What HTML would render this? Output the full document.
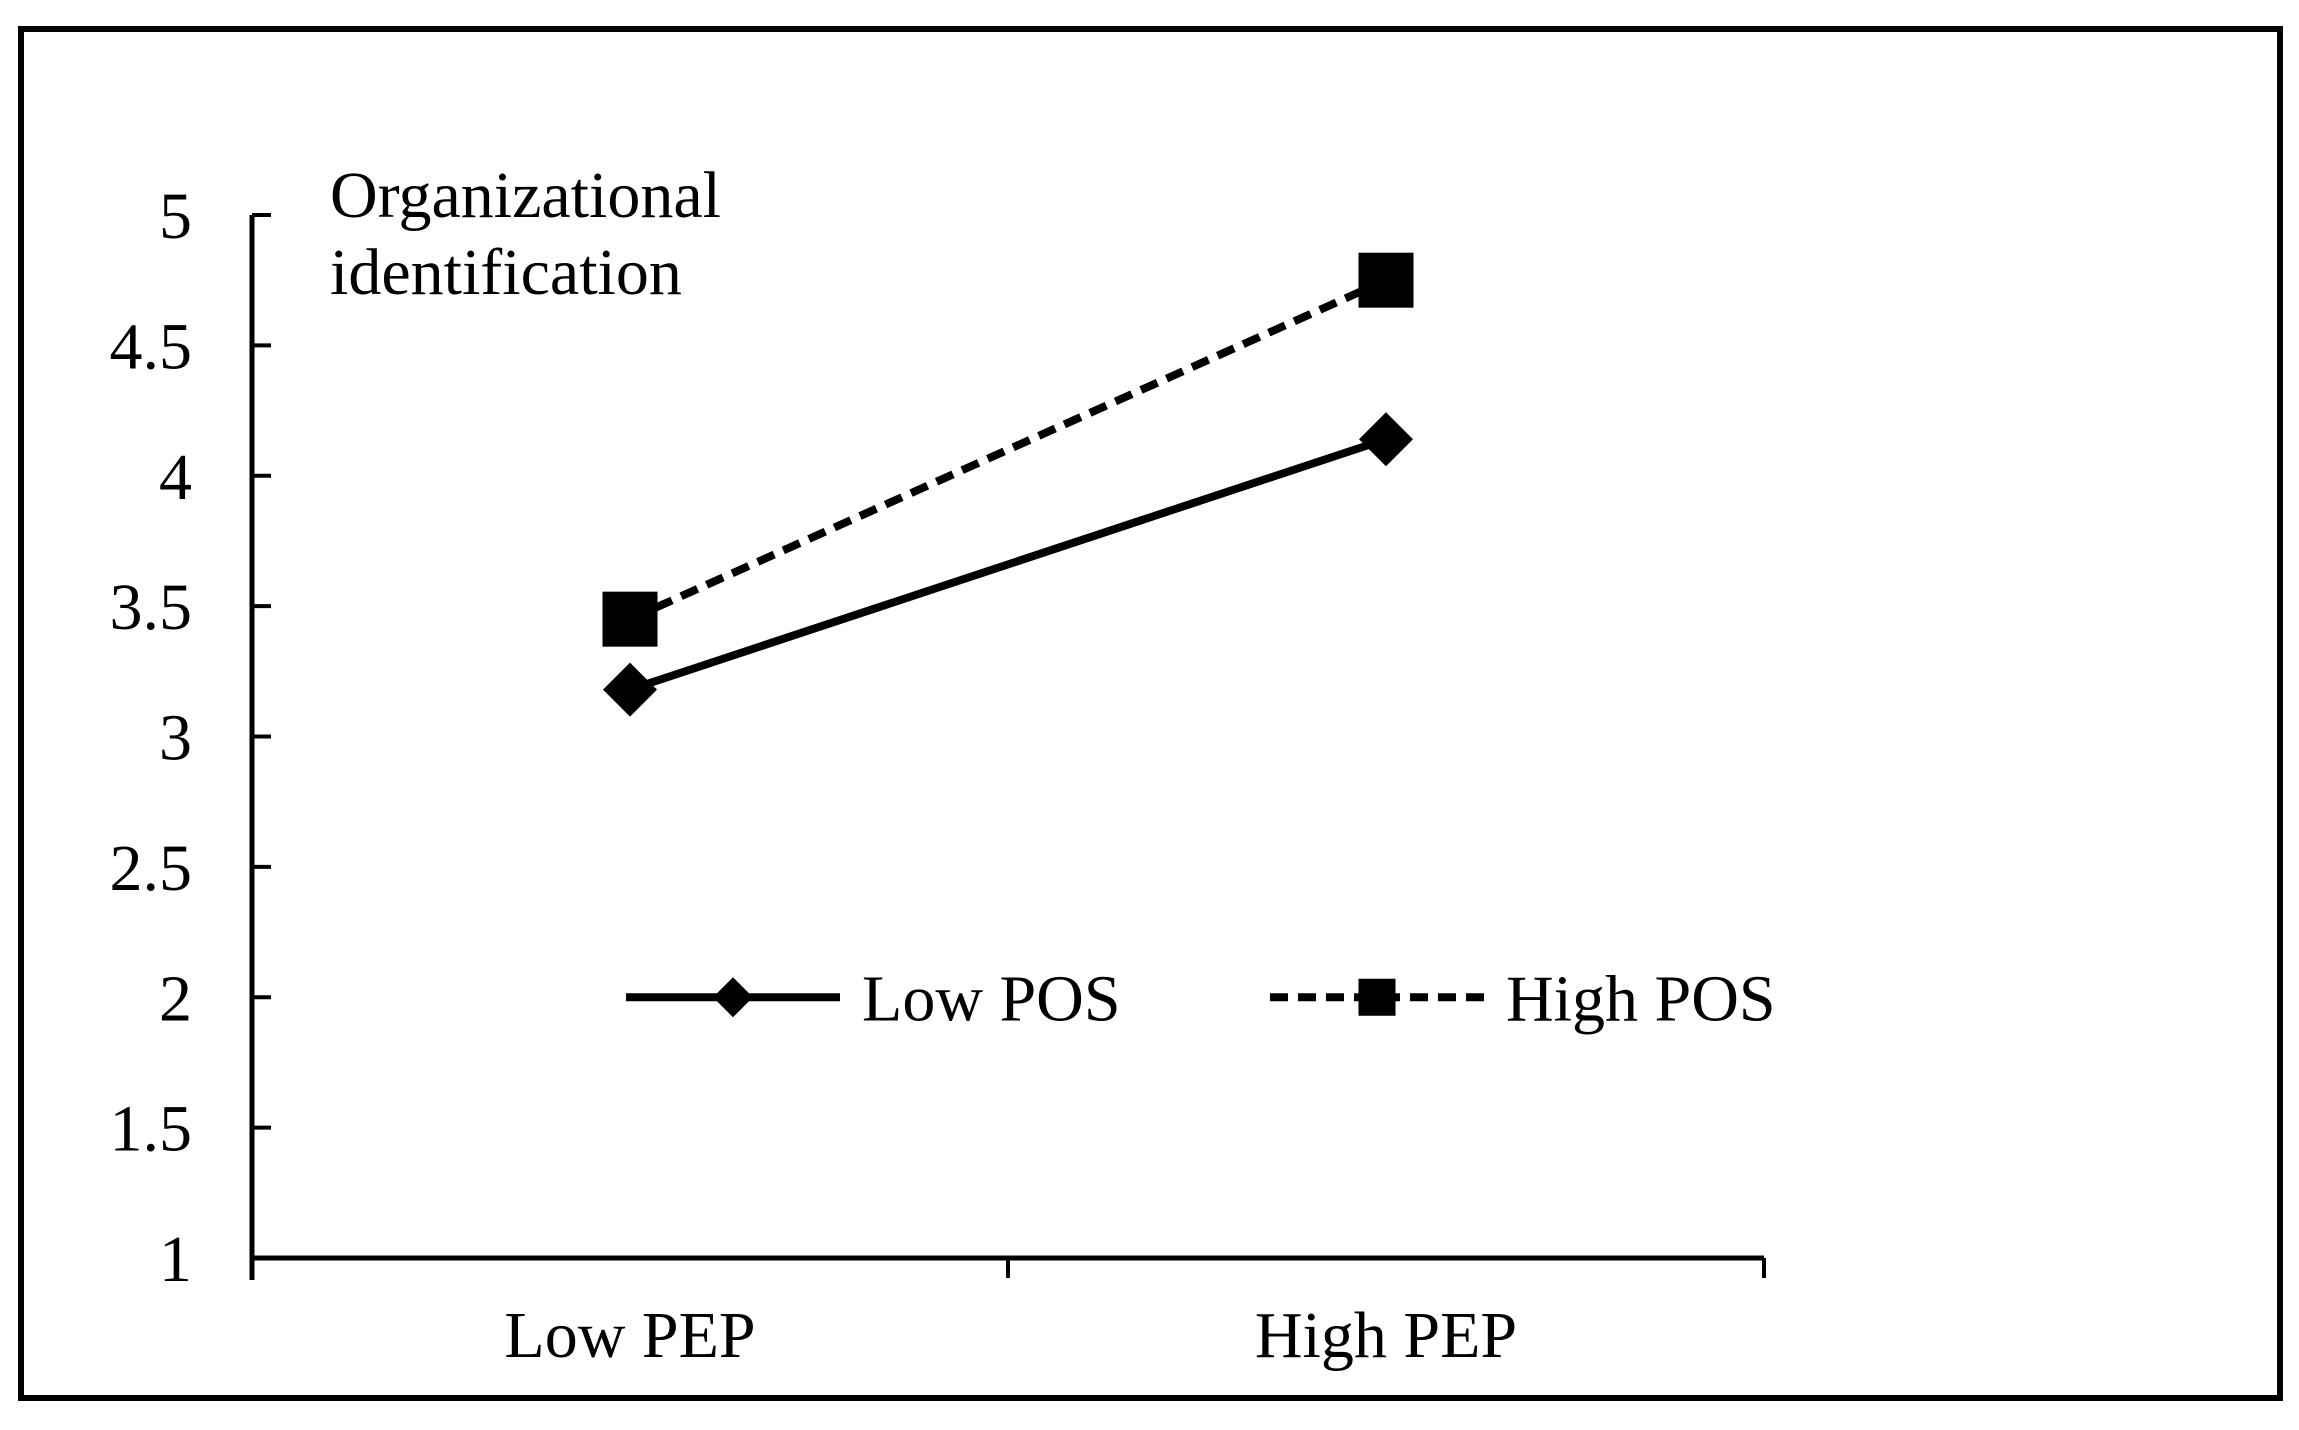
<!DOCTYPE html>
<html><head><meta charset="utf-8"><style>html,body{margin:0;padding:0;background:#fff}svg{display:block}</style></head>
<body>
<svg id="chart" width="2299" height="1430" viewBox="0 0 2299 1430" xmlns="http://www.w3.org/2000/svg" font-family="'Liberation Serif', serif">
<rect x="21" y="29" width="2259" height="1369" fill="#fff" stroke="#000" stroke-width="6"/>
<g id="axes"></g>
<g id="series"></g>
<g id="legend"></g>
</svg>
<script>
const categories = ["Low PEP", "High PEP"];
const lowPOS = [3.18, 4.14];
const highPOS = [3.45, 4.75];
const yTicks = [1, 1.5, 2, 2.5, 3, 3.5, 4, 4.5, 5];
const yTickLabels = ["1", "1.5", "2", "2.5", "3", "3.5", "4", "4.5", "5"];
const seriesNames = ["Low POS", "High POS"];

const NS = "http://www.w3.org/2000/svg";
const X0 = 252, X1 = 1764, Y0 = 1258, Y1 = 215, YMIN = 1, YMAX = 5;
function yScale(v){ return Y0 - (v - YMIN) / (YMAX - YMIN) * (Y0 - Y1); }
function xScale(i){ const w = (X1 - X0) / categories.length; return X0 + w * (i + 0.5); }
function mk(tag, attrs, parent){ const e = document.createElementNS(NS, tag); for (const k in attrs) e.setAttribute(k, attrs[k]); parent.appendChild(e); return e; }

const axes = document.getElementById("axes");
let e = mk("line", {x1: X0, y1: Y1, x2: X0, y2: Y0 + 22, stroke: "#000", "stroke-width": 5}, axes);


e = mk("line", {x1: X0 - 2, y1: Y0, x2: X1, y2: Y0, stroke: "#000", "stroke-width": 5}, axes);


yTicks.forEach((v, i) => {
  const y = yScale(v);
  const t = mk("line", {x1: X0, y1: y, x2: X0 + 19, y2: y, stroke: "#000", "stroke-width": 4}, axes);
  
  
  const l = mk("text", {x: 192, y: y + 23, "text-anchor": "end", "font-size": 66}, axes);
  l.textContent = yTickLabels[i];
  
  
});
for (let i = 0; i <= categories.length; i++) {
  const x = X0 + (X1 - X0) / categories.length * i;
  if (i > 0) {
    const t = mk("line", {x1: x, y1: Y0, x2: x, y2: Y0 + 20, stroke: "#000", "stroke-width": 4}, axes);
    
    
  }
}
categories.forEach((c, i) => {
  const l = mk("text", {x: xScale(i), y: 1357, "text-anchor": "middle", "font-size": 66}, axes);
  l.textContent = c;
  
  
});
const title = mk("text", {x: 330, y: 217, "font-size": 66}, axes);


const ts1 = mk("tspan", {x: 330, y: 217}, title); ts1.textContent = "Organizational";
const ts2 = mk("tspan", {x: 330, y: 294}, title); ts2.textContent = "identification";

function diamond(cx, cy, r, parent){ return mk("polygon", {points: `${cx},${cy-r} ${cx+r},${cy} ${cx},${cy+r} ${cx-r},${cy}`, fill: "#000"}, parent); }
function square(cx, cy, s, parent){ return mk("rect", {x: cx - s/2, y: cy - s/2, width: s, height: s, fill: "#000"}, parent); }

const series = document.getElementById("series");
const allSeries = [lowPOS, highPOS];
allSeries.forEach((vals, si) => {
  const pts = vals.map((v, i) => `${xScale(i)},${yScale(v)}`).join(" ");
  const pl = mk("polyline", {points: pts, fill: "none", stroke: "#000", "stroke-width": 8}, series);
  if (si === 1) pl.setAttribute("stroke-dasharray", "18 10");
  
  
  vals.forEach((v, i) => {
    const m = si === 0 ? diamond(xScale(i), yScale(v), 27, series) : square(xScale(i), yScale(v), 55, series);
    
    
  });
});

const legend = document.getElementById("legend");
const ly = yScale(2);
const legX = [626, 1270];
seriesNames.forEach((n, si) => {
  const g = mk("g", {}, legend);
  
  
  const ln = mk("line", {x1: legX[si], y1: ly, x2: legX[si] + 214, y2: ly, stroke: "#000", "stroke-width": 8}, g);
  if (si === 1) ln.setAttribute("stroke-dasharray", "18 10");
  
  
  const m = si === 0 ? diamond(legX[si] + 107, ly, 20, g) : square(legX[si] + 107, ly, 37, g);
  
  
  const t = mk("text", {x: legX[si] + 236, y: ly + 23, "font-size": 66}, g);
  t.textContent = n;
  
  
});
</script>
</body></html>
